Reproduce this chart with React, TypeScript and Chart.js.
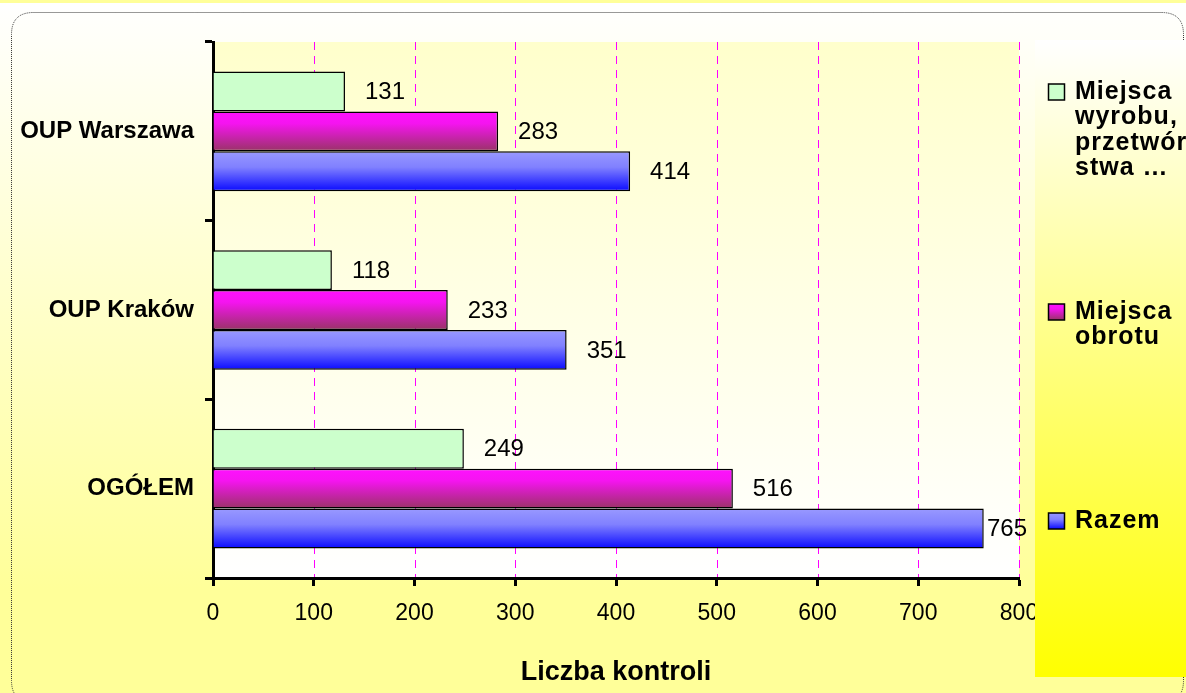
import React, { useEffect, useRef } from 'react';
import { Chart, registerables } from 'chart.js';

Chart.register(...registerables);

// ---- data ----
const categories = ['OUP Warszawa', 'OUP Kraków', 'OGÓŁEM'];
const seriesNames = ['Miejsca wyrobu, przetwórstwa …', 'Miejsca obrotu', 'Razem'];
const legendLines = [['Miejsca', 'wyrobu,', 'przetwór', 'stwa …'], ['Miejsca', 'obrotu'], ['Razem']];
const wyrobuValues = [131, 118, 249];
const obrotuValues = [283, 233, 516];
const razemValues = [414, 351, 765];
const xMin = 0;
const xMax = 800;
const xStep = 100;
const axisTitle = 'Liczba kontroli';

// ---- style ----
const W = 1186;
const H = 693;
const FONT = '"Liberation Sans", Arial, sans-serif';
const CAT_PCT = 0.67;

function addStops(g: CanvasGradient, s: number) {
  if (s === 1) {
    g.addColorStop(0, '#FF10FF');
    g.addColorStop(0.3, '#F514F0');
    g.addColorStop(1, '#993366');
  } else {
    g.addColorStop(0, '#9999FF');
    g.addColorStop(0.4, '#8080FF');
    g.addColorStop(1, '#0A0AFF');
  }
}

function barFill(s: number) {
  return (c: any) => {
    if (s === 0) return '#CCFFCC';
    const chart = c.chart;
    const ys = chart.scales && chart.scales.y;
    if (!ys || c.dataIndex == null || !chart.chartArea) return s === 1 ? '#CC22CC' : '#6666FF';
    const p0 = ys.getPixelForValue(0);
    const p1 = ys.getPixelForValue(1);
    const cat = Math.abs(p1 - p0);
    const center = ys.getPixelForValue(c.dataIndex);
    const group = cat * CAT_PCT;
    const bh = group / 3;
    const top = center - group / 2 + s * bh;
    const g = chart.ctx.createLinearGradient(0, top, 0, top + bh);
    addStops(g, s);
    return g;
  };
}

function roundRectPath(ctx: CanvasRenderingContext2D, x: number, y: number, w: number, h: number, r: number) {
  ctx.beginPath();
  ctx.moveTo(x + r, y);
  ctx.lineTo(x + w - r, y);
  ctx.quadraticCurveTo(x + w, y, x + w, y + r);
  ctx.lineTo(x + w, y + h - r);
  ctx.quadraticCurveTo(x + w, y + h, x + w - r, y + h);
  ctx.lineTo(x + r, y + h);
  ctx.quadraticCurveTo(x, y + h, x, y + h - r);
  ctx.lineTo(x, y + r);
  ctx.quadraticCurveTo(x, y, x + r, y);
  ctx.closePath();
}

const backgroundPlugin = {
  id: 'bgPlugin',
  beforeDraw(chart: any) {
    const { ctx, chartArea: a } = chart;
    ctx.save();
    const g = ctx.createLinearGradient(0, 0, 0, H);
    g.addColorStop(0, '#FFFFFF');
    g.addColorStop(0.85, '#FFFF99');
    g.addColorStop(1, '#FFFF99');
    ctx.fillStyle = g;
    ctx.fillRect(0, 0, W, H);
    ctx.fillStyle = '#FFFF99';
    ctx.fillRect(0, 0, W, 3);
    ctx.strokeStyle = '#333333';
    ctx.lineWidth = 1;
    ctx.setLineDash([1, 1]);
    roundRectPath(ctx, 11.5, 12.5, 1172, 690, 22);
    ctx.stroke();
    ctx.setLineDash([]);
    const pg = ctx.createLinearGradient(0, a.top, 0, a.bottom);
    pg.addColorStop(0, '#FFFFCC');
    pg.addColorStop(1, '#FFFFFF');
    ctx.fillStyle = pg;
    ctx.fillRect(a.left, a.top, a.right - a.left, a.bottom - a.top);
    // vertical dashed gridlines from the x scale
    const xs = chart.scales.x;
    ctx.strokeStyle = '#FF00FF';
    ctx.lineWidth = 1;
    ctx.setLineDash([8, 6]);
    xs.ticks.forEach((t: any) => {
      if (t.value === xMin) return;
      const px = Math.round(xs.getPixelForValue(t.value)) + 0.5;
      ctx.beginPath();
      ctx.moveTo(px, a.top);
      ctx.lineTo(px, a.bottom);
      ctx.stroke();
    });
    ctx.setLineDash([]);
    ctx.restore();
  },
};

const dataLabelPlugin = {
  id: 'dataLabels',
  afterDatasetsDraw(chart: any) {
    const { ctx, chartArea } = chart;
    ctx.save();
    ctx.font = `24px ${FONT}`;
    ctx.fillStyle = '#000';
    ctx.textBaseline = 'middle';
    ctx.textAlign = 'left';
    chart.data.datasets.forEach((ds: any, di: number) => {
      const meta = chart.getDatasetMeta(di);
      meta.data.forEach((el: any, i: number) => {
        const txt = String(ds.data[i]);
        const w = ctx.measureText(txt).width;
        let x = el.x + 20;
        if (x + w > chartArea.right + 8) x = chartArea.right + 8 - w;
        ctx.fillText(txt, x, el.y + 1);
      });
    });
    ctx.restore();
  },
};

const legendPlugin = {
  id: 'customLegend',
  afterDraw(chart: any) {
    const ctx: CanvasRenderingContext2D = chart.ctx;
    ctx.save();
    const bx = 1035;
    const by = 40;
    const bh = 677 - by;
    const g = ctx.createLinearGradient(0, by, 0, by + bh);
    g.addColorStop(0, '#FFFFFF');
    g.addColorStop(1, '#FFFF00');
    ctx.fillStyle = g;
    ctx.fillRect(bx, by, W - bx, bh);
    const itemY = [92, 312, 521];
    const lineH = 25.5;
    legendLines.forEach((lines, i) => {
      const y = itemY[i];
      const top = y - 8;
      if (i === 0) {
        ctx.fillStyle = '#CCFFCC';
      } else {
        const mg = ctx.createLinearGradient(0, top, 0, top + 16);
        addStops(mg, i);
        ctx.fillStyle = mg;
      }
      ctx.fillRect(1048.5, top, 16, 16);
      ctx.strokeStyle = '#000';
      ctx.lineWidth = 1.5;
      ctx.strokeRect(1048.5, top, 16, 16);
      ctx.fillStyle = '#000';
      ctx.font = `bold 25px ${FONT}`;
      try { (ctx as any).letterSpacing = '1px'; } catch (e) {}
      ctx.textBaseline = 'middle';
      ctx.textAlign = 'left';
      lines.forEach((t, k) => ctx.fillText(t, 1075, y + k * lineH));
    });
    ctx.restore();
  },
};

export default function App() {
  const ref = useRef<HTMLCanvasElement>(null);
  useEffect(() => {
    const canvas = ref.current;
    if (!canvas) return;
    const chart = new Chart(canvas, {
      type: 'bar',
      data: {
        labels: categories,
        datasets: [
          { label: seriesNames[0], data: wyrobuValues, backgroundColor: barFill(0), borderColor: '#000', borderWidth: 1.5 },
          { label: seriesNames[1], data: obrotuValues, backgroundColor: barFill(1), borderColor: '#000', borderWidth: 1.5 },
          { label: seriesNames[2], data: razemValues, backgroundColor: barFill(2), borderColor: '#000', borderWidth: 1.5 },
        ],
      },
      options: {
        indexAxis: 'y',
        responsive: false,
        animation: false,
        devicePixelRatio: 1,
        layout: { padding: { left: 0, top: 42, right: 167, bottom: 4 } },
        datasets: { bar: { categoryPercentage: CAT_PCT, barPercentage: 1 } },
        plugins: {
          legend: { display: false },
          tooltip: { enabled: false },
          title: { display: false },
        },
        scales: {
          x: {
            type: 'linear',
            position: 'bottom',
            min: xMin,
            max: xMax,
            ticks: { stepSize: xStep, color: '#000', font: { family: FONT, size: 23 }, padding: 14, maxRotation: 0 },
            grid: {
              drawOnChartArea: false,
              color: '#000',
              lineWidth: 1,
              tickColor: '#000',
              tickWidth: 3,
              tickLength: 8,
              drawTicks: true,
            },
            border: { display: true, color: '#000', width: 3 },
            title: {
              display: true,
              text: axisTitle,
              color: '#000',
              font: { family: FONT, size: 27, weight: 'bold' },
              padding: { top: 0, bottom: 0 },
            },
            afterFit: (s: any) => {
              s.height = 111;
              s.paddingLeft = 0;
              s.paddingRight = 0;
            },
          },
          y: {
            type: 'category',
            position: 'left',
            ticks: { color: '#000', font: { family: FONT, size: 24, weight: 'bold' }, padding: 11 },
            grid: {
              offset: true,
              drawOnChartArea: false,
              color: '#000',
              lineWidth: 3,
              tickColor: '#000',
              tickWidth: 3,
              tickLength: 8,
            },
            border: { display: true, color: '#000', width: 3 },
            afterFit: (s: any) => {
              s.width = 213;
              s.paddingTop = 0;
              s.paddingBottom = 0;
            },
          },
        },
      } as any,
      plugins: [backgroundPlugin, dataLabelPlugin, legendPlugin],
    });
    return () => chart.destroy();
  }, []);
  return (
    <div style={{ position: 'absolute', left: 0, top: 0, width: W, height: H }}>
      <canvas ref={ref} width={W} height={H} style={{ display: 'block', width: W, height: H }} />
    </div>
  );
}
